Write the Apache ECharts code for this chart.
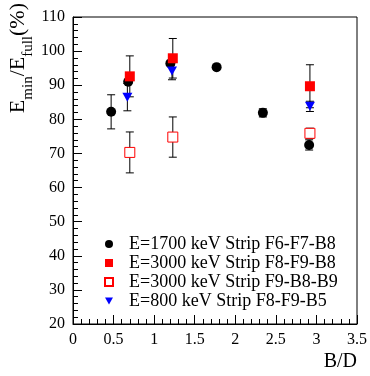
<!DOCTYPE html>
<html><head><meta charset="utf-8">
<script src="https://cdn.jsdelivr.net/npm/echarts@6/dist/echarts.min.js"></script>
<style>html,body{margin:0;padding:0;background:#fff}#c{width:370px;height:376px}</style>
</head><body><div id="c"></div>
<script>
// [x, y, error]
const black1700 = [[0.47,82.2,5.0],[0.68,91.0,0],[1.20,96.4,0],[1.77,95.3,0],[2.34,81.9,1.2],[2.91,72.5,1.5]];
const red3000 = [[0.70,92.6,6.0],[1.23,97.9,5.8],[2.92,89.7,6.3]];
const open3000 = [[0.70,70.3,6.0],[1.23,74.8,5.9],[2.92,75.9,1.5]];
const blue800 = [[0.67,86.5,4.0],[1.22,94.2,2.6],[2.92,83.8,1.5]];
const xTicks = ['0','0.5','1','1.5','2','2.5','3','3.5'];
const names = ['E=1700 keV Strip F6-F7-B8','E=3000 keV Strip F8-F9-B8','E=3000 keV Strip F9-B8-B9','E=800 keV Strip F8-F9-B5'];

const FONT = 'Liberation Serif';
function errSeries(data){
  return {
    type:'custom', silent:true, z:1,
    data: data.filter(d=>d[2]>0).map(d=>[d[0],d[1]-d[2],d[1]+d[2]]),
    renderItem:function(params,api){
      const lo = api.coord([api.value(0),api.value(1)]);
      const hi = api.coord([api.value(0),api.value(2)]);
      const w = 4;
      const st = {stroke:'#000',lineWidth:1};
      return {type:'group',children:[
        {type:'line',shape:{x1:lo[0],y1:lo[1],x2:hi[0],y2:hi[1]},style:st},
        {type:'line',shape:{x1:lo[0]-w,y1:lo[1],x2:lo[0]+w,y2:lo[1]},style:st},
        {type:'line',shape:{x1:hi[0]-w,y1:hi[1],x2:hi[0]+w,y2:hi[1]},style:st}
      ]};
    }
  };
}
const triDown = 'path://M0,0 L10,0 L5,9 Z';
const chart = echarts.init(document.getElementById('c'),null,{renderer:'canvas'});
chart.setOption({
  animation:false,
  backgroundColor:'#fff',
  grid:{left:73,right:12,top:15,bottom:52,show:true,borderColor:'#000',borderWidth:1},
  xAxis:{type:'value',min:0,max:3.5,interval:0.5,
    axisLine:{show:true,lineStyle:{color:'#000'}},
    axisTick:{show:true,inside:true,length:9,lineStyle:{color:'#000'}},
    minorTick:{show:true,splitNumber:5,length:5,lineStyle:{color:'#000'}},
    splitLine:{show:false},
    axisLabel:{color:'#000',fontFamily:FONT,fontSize:16,margin:8,
      formatter:function(v){const i=Math.round(v/0.5);return xTicks[i]!==undefined?xTicks[i]:'';}},
    name:'B/D',nameLocation:'end',nameGap:0,
    nameTextStyle:{color:'#000',fontFamily:FONT,fontSize:20,align:'right',verticalAlign:'top',padding:[28,0,0,0]}
  },
  yAxis:{type:'value',min:20,max:110,interval:10,
    axisLine:{show:true,lineStyle:{color:'#000'}},
    axisTick:{show:true,inside:true,length:9,lineStyle:{color:'#000'}},
    minorTick:{show:true,splitNumber:5,length:5,lineStyle:{color:'#000'}},
    splitLine:{show:false},
    axisLabel:{color:'#000',fontFamily:FONT,fontSize:16,margin:8},
    name:'{a|E}{s|min}{a|/E}{s|full}{a|(%)}',nameLocation:'end',nameRotate:90,nameGap:0,
    nameTextStyle:{rich:{a:{fontFamily:FONT,fontSize:22,color:'#000'},s:{fontFamily:FONT,fontSize:15,color:'#000',verticalAlign:'bottom',padding:[0,0,-7,0]}},
      align:'right',verticalAlign:'bottom',padding:[0,-14,44,0]}
  },
  legend:{orient:'vertical',left:104,top:235,padding:0,itemGap:1,itemWidth:8,itemHeight:8,
    textStyle:{fontFamily:FONT,fontSize:18,color:'#000',padding:[0,0,0,11]},
    data:names},
  series:[
    errSeries(black1700),errSeries(red3000),errSeries(open3000),errSeries(blue800),
    {name:names[0],type:'scatter',z:3,symbol:'circle',symbolSize:10,itemStyle:{color:'#000',opacity:1},data:black1700.map(d=>[d[0],d[1]])},
    {name:names[1],type:'scatter',z:4,symbol:'rect',symbolSize:10,itemStyle:{color:'#f00',opacity:1},data:red3000.map(d=>[d[0],d[1]])},
    {name:names[2],type:'scatter',z:4,symbol:'rect',symbolSize:10,itemStyle:{color:'#fff',borderColor:'#f00',borderWidth:1,opacity:1},data:open3000.map(d=>[d[0],d[1]])},
    {name:names[3],type:'scatter',z:5,symbol:triDown,symbolSize:[10,9],itemStyle:{color:'#00f',opacity:1},data:blue800.map(d=>[d[0],d[1]])}
  ]
});
</script></body></html>
